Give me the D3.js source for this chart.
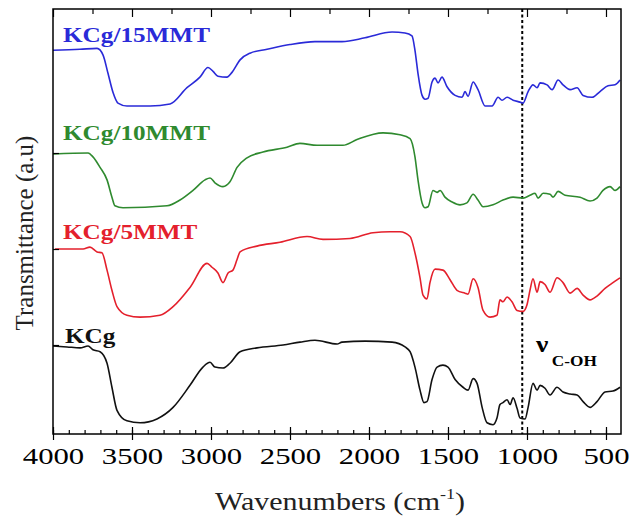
<!DOCTYPE html>
<html>
<head>
<meta charset="utf-8">
<script src="https://cdn.jsdelivr.net/npm/d3@7"></script>
<style>
  html, body { margin: 0; padding: 0; background: #fff; }
  svg { display: block; font-family: "Liberation Serif", "Times New Roman", serif; }
</style>
</head>
<body>
<svg id="chart" width="630" height="516"></svg>
<script>
// ---- data: [wavenumber (cm-1), transmittance (a.u., offset)] ----
const kcg15 = [
  [4000,4.07],[3829,4.08],[3721,4.09],[3683,4.02],[3652,3.83],[3620,3.63],[3589,3.52],[3532,3.49],
  [3386,3.49],[3259,3.51],[3152,3.68],[3070,3.79],[3019,3.89],[2987,3.85],[2956,3.80],[2899,3.79],
  [2867,3.84],[2816,3.97],[2753,4.04],[2645,4.08],[2500,4.13],[2342,4.16],[2171,4.16],[2025,4.20],
  [1854,4.26],[1772,4.25],[1728,4.22],[1709,4.07],[1690,3.83],[1664,3.60],[1645,3.56],[1626,3.57],
  [1601,3.74],[1582,3.78],[1563,3.73],[1538,3.79],[1506,3.69],[1455,3.60],[1411,3.58],[1392,3.64],
  [1373,3.59],[1341,3.74],[1310,3.66],[1265,3.49],[1221,3.49],[1183,3.58],[1158,3.55],[1126,3.58],
  [1088,3.55],[1044,3.53],[1025,3.52],[993,3.64],[962,3.71],[936,3.68],[917,3.73],[873,3.71],
  [841,3.66],[803,3.76],[772,3.71],[727,3.66],[683,3.68],[645,3.60],[588,3.58],[538,3.64],
  [487,3.70],[443,3.71],[411,3.76]
];
const kcg10 = [
  [4000,2.99],[3778,3.00],[3747,2.96],[3702,2.85],[3658,2.72],[3627,2.54],[3608,2.45],[3557,2.43],
  [3278,2.45],[3196,2.51],[3114,2.61],[3038,2.72],[3006,2.74],[2975,2.69],[2924,2.65],[2880,2.70],
  [2835,2.85],[2772,2.95],[2671,3.01],[2519,3.06],[2437,3.10],[2329,3.08],[2165,3.08],[2076,3.14],
  [1911,3.21],[1804,3.19],[1740,3.15],[1709,2.96],[1690,2.72],[1664,2.48],[1645,2.43],[1626,2.44],
  [1595,2.61],[1569,2.59],[1550,2.61],[1519,2.54],[1474,2.49],[1424,2.46],[1380,2.48],[1341,2.57],
  [1310,2.51],[1278,2.44],[1215,2.46],[1152,2.51],[1088,2.54],[1025,2.53],[981,2.56],[949,2.58],
  [930,2.53],[898,2.58],[854,2.57],[835,2.54],[803,2.60],[759,2.56],[664,2.54],[601,2.50],
  [557,2.53],[519,2.61],[474,2.65],[443,2.61],[411,2.65]
];
const kcg5 = [
  [3987,2.00],[3810,2.00],[3766,2.02],[3721,1.97],[3690,1.96],[3658,1.78],[3627,1.57],[3595,1.40],
  [3532,1.31],[3449,1.29],[3323,1.31],[3240,1.40],[3133,1.60],[3025,1.85],[2994,1.81],[2956,1.75],
  [2924,1.65],[2892,1.75],[2861,1.78],[2835,1.89],[2816,1.97],[2709,2.03],[2563,2.07],[2392,2.13],
  [2291,2.10],[2120,2.11],[1975,2.17],[1867,2.18],[1804,2.18],[1740,2.13],[1709,1.96],[1677,1.70],
  [1658,1.52],[1633,1.48],[1614,1.65],[1582,1.79],[1532,1.78],[1487,1.68],[1443,1.57],[1392,1.54],
  [1373,1.53],[1341,1.69],[1310,1.60],[1278,1.36],[1234,1.29],[1190,1.31],[1171,1.47],[1152,1.45],
  [1126,1.50],[1095,1.45],[1063,1.36],[1025,1.35],[1000,1.42],[981,1.57],[962,1.69],[936,1.55],
  [917,1.66],[886,1.63],[854,1.55],[810,1.70],[772,1.65],[727,1.54],[683,1.59],[645,1.52],
  [601,1.47],[557,1.51],[506,1.59],[456,1.65],[411,1.70]
];
const kcg = [
  [4000,0.99],[3911,0.98],[3829,0.97],[3778,0.99],[3747,0.95],[3702,0.93],[3658,0.81],[3627,0.56],
  [3595,0.32],[3532,0.21],[3449,0.19],[3342,0.23],[3240,0.35],[3133,0.58],[3051,0.77],[3006,0.82],
  [2975,0.77],[2924,0.76],[2880,0.81],[2816,0.93],[2709,0.97],[2544,1.00],[2437,1.03],[2342,1.05],
  [2202,1.01],[2171,1.03],[2025,1.04],[1854,1.03],[1772,0.98],[1740,0.93],[1709,0.77],[1677,0.53],
  [1652,0.40],[1633,0.41],[1601,0.64],[1569,0.77],[1532,0.79],[1500,0.77],[1455,0.64],[1405,0.56],
  [1373,0.53],[1341,0.65],[1316,0.60],[1284,0.35],[1253,0.19],[1215,0.17],[1190,0.24],[1171,0.38],
  [1152,0.40],[1126,0.43],[1107,0.38],[1088,0.45],[1063,0.34],[1044,0.24],[1012,0.23],[993,0.35],
  [962,0.60],[936,0.53],[917,0.58],[886,0.55],[854,0.48],[810,0.56],[772,0.51],[727,0.49],
  [683,0.48],[645,0.41],[601,0.35],[557,0.41],[506,0.51],[456,0.52],[411,0.56]
];
const seriesNames = ["KCg/15MMT", "KCg/10MMT", "KCg/5MMT", "KCg"];
const seriesColors = ["#2a2ad8", "#2f8a2f", "#e4202c", "#111111"];
const xMajorTicks = [4000, 3500, 3000, 2500, 2000, 1500, 1000, 500];
const markerWavenumber = 1030;

// ---- layout ----
const svg = d3.select("#chart");
const L = 53, R = 621, T = 9, B = 434;
const x = d3.scaleLinear().domain([4000, 405]).range([L, R]);
const y = d3.scaleLinear().domain([0.073, 4.5]).range([B, T]);
const STRETCH = 1.28;

const data = [kcg15, kcg10, kcg5, kcg];
const line = d3.line().x(d => x(d[0])).y(d => y(d[1])).curve(d3.curveMonotoneX);

// dotted marker line
svg.append("line")
  .attr("x1", x(markerWavenumber)).attr("x2", x(markerWavenumber))
  .attr("y1", T).attr("y2", B)
  .attr("stroke", "#000").attr("stroke-width", 2).attr("stroke-dasharray", "3,2.5");

// curves
data.forEach((d, i) => {
  svg.append("path").datum(d)
    .attr("d", line)
    .attr("fill", "none")
    .attr("stroke", seriesColors[i])
    .attr("stroke-width", 1.6)
    .attr("stroke-linejoin", "round");
});

// axes
const minorTicks = d3.range(4000, 400, -100);
const gB = svg.append("g").attr("transform", `translate(0,${B})`);
gB.call(d3.axisBottom(x).tickValues(minorTicks).tickFormat("").tickSize(-4));
gB.select(".domain").remove();
const gBM = svg.append("g").attr("transform", `translate(0,${B})`);
gBM.call(d3.axisBottom(x).tickValues(xMajorTicks).tickSize(-7).tickFormat(d3.format("d")));
gBM.select(".domain").remove();
gBM.selectAll(".tick line").attr("y1", 6);
gBM.selectAll(".tick text")
  .attr("dy", null).attr("y", 30)
  .attr("font-size", 24).attr("fill", "#000")
  .attr("font-family", "'Liberation Serif', 'Times New Roman', serif")
  .attr("transform", `scale(${STRETCH},1)`);

const topTicks = d3.range(4000, 400, -250);
const gT = svg.append("g").attr("transform", `translate(0,${T})`);
gT.call(d3.axisTop(x).tickValues(topTicks).tickFormat("").tickSize(-5));
gT.select(".domain").remove();
gT.selectAll(".tick line").attr("y2", d => d % 500 === 0 ? 8 : 5);

const gL = svg.append("g").attr("transform", `translate(${L},0)`);
gL.call(d3.axisLeft(y).tickValues([1, 2, 3]).tickFormat("").tickSize(-6));
gL.select(".domain").remove();
svg.selectAll(".tick line").attr("stroke", "#000").attr("stroke-width", 1.2);

// frame
svg.append("rect").attr("x", L).attr("y", T).attr("width", R - L).attr("height", B - T)
  .attr("fill", "none").attr("stroke", "#000").attr("stroke-width", 1.5);

// series labels
const labelPos = [[63, 42], [63, 140], [63, 239], [65, 343]];
seriesNames.forEach((n, i) => {
  svg.append("text")
    .attr("transform", `translate(${labelPos[i][0]},${labelPos[i][1]}) scale(1.2,1)`)
    .attr("font-size", 21).attr("font-weight", "bold")
    .attr("fill", seriesColors[i])
    .text(n);
});

// nu C-OH label
const nu = svg.append("text")
  .attr("transform", "translate(536,352) scale(1.15,1)")
  .attr("font-weight", "bold").attr("fill", "#000");
nu.append("tspan").attr("font-size", 24).text("ν");
nu.append("tspan").attr("font-size", 15).attr("dx", 3).attr("dy", 14).text("C-OH");

// axis titles
const xt = svg.append("text")
  .attr("transform", "translate(340,510) scale(1.2,1)")
  .attr("text-anchor", "middle").attr("font-size", 25).attr("fill", "#222");
xt.append("tspan").text("Wavenumbers (cm");
xt.append("tspan").attr("font-size", 15).attr("dy", -11).text("-1");
xt.append("tspan").attr("dy", 11).text(")");

svg.append("text")
  .attr("transform", "translate(33,233) rotate(-90)")
  .attr("text-anchor", "middle").attr("font-size", 25).attr("fill", "#222")
  .text("Transmittance (a.u)");
</script>
</body>
</html>
